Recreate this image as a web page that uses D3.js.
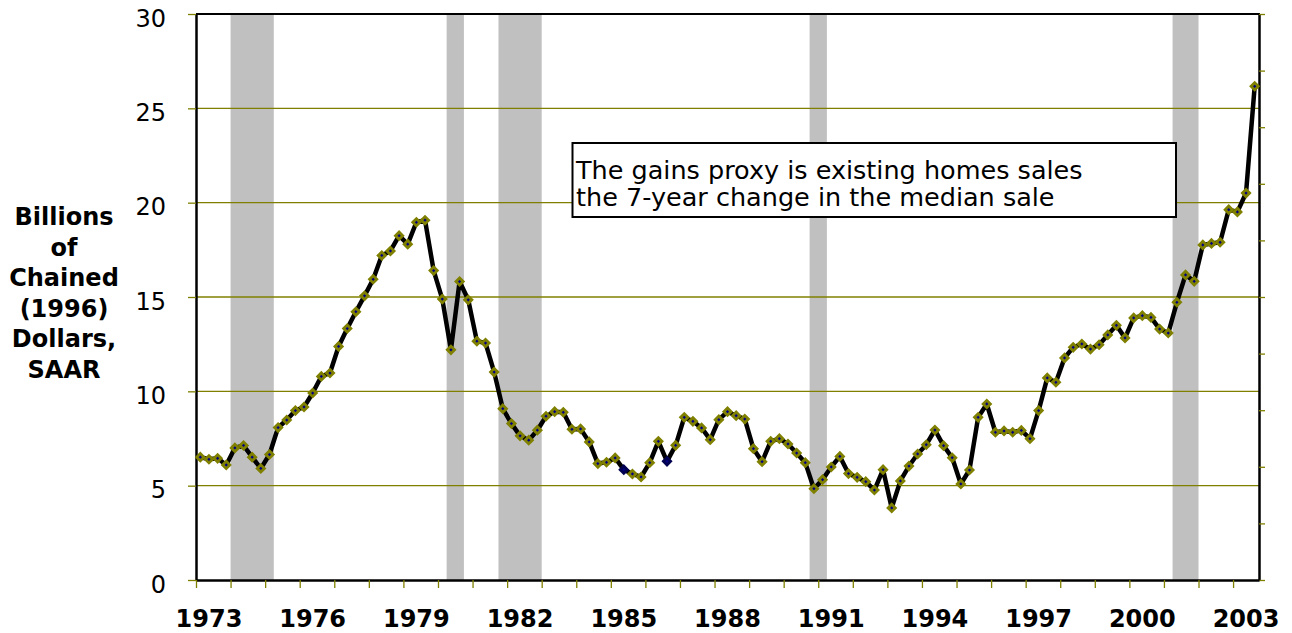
<!DOCTYPE html>
<html>
<head>
<meta charset="utf-8">
<script src="https://cdn.jsdelivr.net/npm/d3@7"></script>
<style>
  body { margin: 0; background: #fff; }
  text { font-family: "DejaVu Sans", Verdana, sans-serif; }
</style>
</head>
<body>
<div id="chart"></div>
<script>
// capital gains proxy, billions of chained 1996 dollars, quarterly from 1973Q1
var gains = [
  6.51, 6.40, 6.45, 6.10, 7.00, 7.13, 6.51, 5.91, 6.65, 8.08, 8.48, 8.98,
  9.17, 9.91, 10.79, 10.97, 12.38, 13.33, 14.22, 15.06, 15.94, 17.20, 17.44, 18.25,
  17.80, 18.96, 19.07, 16.40, 14.89, 12.20, 15.82, 14.85, 12.66, 12.56, 11.02, 9.08,
  8.29, 7.64, 7.41, 7.94, 8.68, 8.92, 8.89, 7.99, 8.01, 7.32, 6.17, 6.24,
  6.47, 5.85, 5.62, 5.46, 6.22, 7.35, 6.29, 7.14, 8.62, 8.41, 8.06, 7.44,
  8.50, 8.92, 8.71, 8.53, 6.96, 6.27, 7.35, 7.49, 7.21, 6.73, 6.22, 4.84,
  5.32, 5.99, 6.55, 5.64, 5.44, 5.21, 4.77, 5.85, 3.82, 5.25, 6.04, 6.68,
  7.17, 7.95, 7.12, 6.48, 5.09, 5.83, 8.62, 9.33, 7.83, 7.90, 7.83, 7.93,
  7.49, 8.98, 10.71, 10.48, 11.77, 12.33, 12.51, 12.24, 12.47, 12.99, 13.50, 12.83,
  13.89, 14.01, 13.92, 13.30, 13.09, 14.72, 16.17, 15.83, 17.76, 17.84, 17.90, 19.63,
  19.51, 20.51, 26.17
];
var tickYears = ["1973", "1976", "1979", "1982", "1985", "1988", "1991", "1994", "1997", "2000", "2003"];
var yTicks = [0, 5, 10, 15, 20, 25, 30];
// shaded recession quarters (first, last)
var recessions = [
  ["1974Q1", "1975Q1"], ["1980Q2", "1980Q3"], ["1981Q4", "1982Q4"],
  ["1990Q4", "1991Q1"], ["2001Q2", "2001Q4"]
];
// two markers drawn without the olive border
var darkMarkers = ["1985Q2", "1986Q3"];
var yTitle = ["Billions", "of", "Chained", "(1996)", "Dollars,", "SAAR"];
var note = ["The gains proxy is existing homes sales", "the 7-year change in the median sale"];

var olive = "#808000";

// quarter labels for the category axis
var quarters = gains.map(function (v, i) {
  return (1973 + Math.floor(i / 4)) + "Q" + (i % 4 + 1);
});
var data = gains.map(function (v, i) { return { q: quarters[i], v: v }; });

// set the dimensions and margins of the graph
var margin = { top: 14, left: 196 },
  width = 1063,
  height = 566;

var svg = d3.select("#chart")
  .append("svg")
  .attr("width", 1292)
  .attr("height", 633);

var g = svg.append("g")
  .attr("transform", "translate(" + margin.left + "," + margin.top + ")");

var x = d3.scaleBand()
  .domain(quarters)
  .range([0, width])
  .padding(0);
var bw = x.bandwidth();

// linear version of x for the yearly tick marks
var xq = d3.scaleLinear().domain([0, quarters.length]).range([0, width]);

var y = d3.scaleLinear().domain([0, 30]).range([height, 0]);
var y2 = d3.scaleLinear().domain([0, 10]).range([height, 0]);

// recession bands
g.selectAll("rect.rec")
  .data(recessions)
  .enter()
  .append("rect")
  .attr("class", "rec")
  .attr("x", function (d) { return x(d[0]); })
  .attr("width", function (d) { return x(d[1]) + bw - x(d[0]); })
  .attr("y", 0)
  .attr("height", height)
  .style("fill", "#c0c0c0");

// gridlines
g.selectAll("line.grid")
  .data(yTicks.filter(function (d) { return d > 0 && d < 30; }))
  .enter()
  .append("line")
  .attr("class", "grid")
  .attr("x1", 0)
  .attr("x2", width)
  .attr("y1", function (d) { return y(d); })
  .attr("y2", function (d) { return y(d); })
  .style("stroke", olive)
  .style("stroke-width", 1.3);

// top border
g.append("line")
  .attr("x1", 0).attr("x2", width + 1)
  .attr("y1", 0).attr("y2", 0)
  .style("stroke", "#000").style("stroke-width", 2);

// left axis
var yAxis = g.append("g")
  .call(d3.axisLeft(y).tickValues(yTicks).tickSize(8).tickSizeOuter(0).tickPadding(22));
yAxis.select(".domain").style("stroke", "#000").style("stroke-width", 2.5);
yAxis.selectAll(".tick line").style("stroke", olive).style("stroke-width", 1.3);
yAxis.selectAll(".tick text")
  .attr("dy", "0.5em")
  .style("font-size", "24px")
  .style("font-family", "DejaVu Sans, Verdana, sans-serif")
  .style("fill", "#000");

// right axis (ticks only)
var rAxis = g.append("g")
  .attr("transform", "translate(" + width + ",0)")
  .call(d3.axisRight(y2).ticks(10).tickSize(6).tickSizeOuter(0).tickFormat(""));
rAxis.select(".domain").style("stroke", "#000").style("stroke-width", 2.5);
rAxis.selectAll(".tick line").style("stroke", olive).style("stroke-width", 1.3);

// bottom axis, a tick each year
var xAxis = g.append("g")
  .attr("transform", "translate(0," + height + ")")
  .call(d3.axisBottom(xq).tickValues(d3.range(0, quarters.length, 4)).tickSize(8).tickSizeOuter(0).tickFormat(""));
xAxis.select(".domain").style("stroke", "#000").style("stroke-width", 2.5);
xAxis.selectAll(".tick line").style("stroke", olive).style("stroke-width", 1.3);

// year labels
g.selectAll("text.year")
  .data(tickYears)
  .enter()
  .append("text")
  .attr("class", "year")
  .attr("x", function (d) { return x(d + "Q2") + bw / 2; })
  .attr("y", height + 47)
  .attr("text-anchor", "middle")
  .style("font-size", "24px")
  .style("font-weight", "bold")
  .text(function (d) { return d; });

// the series line
var line = d3.line()
  .x(function (d) { return x(d.q) + bw / 2; })
  .y(function (d) { return y(d.v); });

g.append("path")
  .datum(data)
  .attr("d", line)
  .style("fill", "none")
  .style("stroke", "#000")
  .style("stroke-width", 4.5)
  .style("stroke-linejoin", "round");

// diamond markers
var diamond = d3.symbol().type(d3.symbolSquare).size(26);
g.selectAll("path.mark")
  .data(data)
  .enter()
  .append("path")
  .attr("class", "mark")
  .attr("d", diamond)
  .attr("transform", function (d) {
    return "translate(" + (x(d.q) + bw / 2) + "," + y(d.v) + ") rotate(45)";
  })
  .style("fill", "#000080")
  .style("stroke", function (d) { return darkMarkers.indexOf(d.q) >= 0 ? "#000050" : olive; })
  .style("stroke-width", 2.8);

// y axis title
svg.selectAll("text.ytitle")
  .data(yTitle)
  .enter()
  .append("text")
  .attr("class", "ytitle")
  .attr("x", 64)
  .attr("y", function (d, i) { return 225 + i * 30.6; })
  .attr("text-anchor", "middle")
  .style("font-size", "24px")
  .style("font-weight", "bold")
  .text(function (d) { return d; });

// note box
svg.append("rect")
  .attr("x", 572.5)
  .attr("y", 143)
  .attr("width", 603.5)
  .attr("height", 74)
  .style("fill", "#fff")
  .style("stroke", "#000")
  .style("stroke-width", 2);

svg.selectAll("text.note")
  .data(note)
  .enter()
  .append("text")
  .attr("class", "note")
  .attr("x", 576)
  .attr("y", function (d, i) { return 179 + i * 27; })
  .style("font-size", "25.5px")
  .style("fill", "#000")
  .text(function (d) { return d; });
</script>
</body>
</html>
